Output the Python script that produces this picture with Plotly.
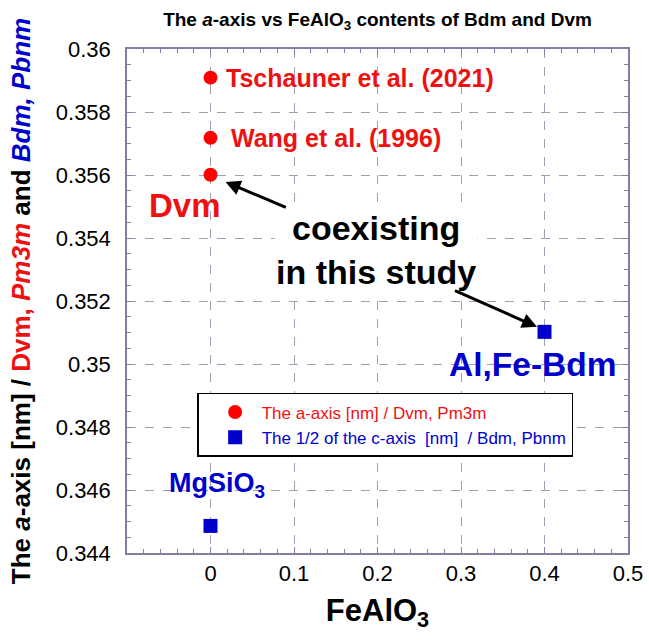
import plotly.graph_objects as go

# ---- data ----
dvm_x = [0.0, 0.0, 0.0]
dvm_y = [0.35909, 0.35718, 0.35601]
bdm_x = [0.0, 0.4]
bdm_y = [0.34486, 0.35102]
x_ticks = [0, 0.1, 0.2, 0.3, 0.4, 0.5]
y_ticks = [0.344, 0.346, 0.348, 0.35, 0.352, 0.354, 0.356, 0.358, 0.36]

RED = "#ff0000"
RED_T = "#ee1111"
BLUE = "#0000cc"
FONT = "Liberation Sans, Arial, sans-serif"
AX = "#8080a8"
GRID = "#a0a0b4"

fig = go.Figure()
fig.add_trace(go.Scatter(
    x=dvm_x, y=dvm_y, mode="markers",
    marker=dict(symbol="circle", size=14, color=RED),
    name=f'<span style="color:{RED_T}">The a-axis [nm] / Dvm, Pm3m</span>'))
fig.add_trace(go.Scatter(
    x=bdm_x, y=bdm_y, mode="markers",
    marker=dict(symbol="square", size=14, color=BLUE),
    name=f'<span style="color:{BLUE}">The 1/2 of the c-axis  [nm]  / Bdm, Pbnm</span>'))

ann = []
def txt(x, y, s, size, color, xanchor="center", bg=None):
    d = dict(x=x, y=y, xref="x", yref="y", text=s, showarrow=False,
             font=dict(family=FONT, size=size, color=color),
             xanchor=xanchor, yanchor="middle")
    if bg:
        d["bgcolor"] = bg
    ann.append(d)

txt(0.016, dvm_y[0], "<b>Tschauner et al. (2021)</b>", 25, RED_T, "left")
txt(0.022, dvm_y[1], "<b>Wang et al. (1996)</b>", 25, RED_T, "left")
txt(-0.031, 0.35502, "<b>Dvm</b>", 33, RED_T)
txt(0.1986, 0.35362, "<b>coexisting<br>in this study</b>", 34, "black", bg="white")
txt(0.386, 0.34997, "<b>Al,Fe-Bdm</b>", 33.5, BLUE)
txt(-0.052, 0.34616, "<b>MgSiO<sub>3</sub></b>", 27, BLUE, "left")

for (hx, hy, tx, ty) in [(0.018, 0.35578, 0.092, 0.35495),
                         (0.391, 0.35118, 0.291, 0.35235)]:
    ann.append(dict(x=hx, y=hy, ax=tx, ay=ty, xref="x", yref="y",
                    axref="x", ayref="y", text="", showarrow=True,
                    arrowhead=2, arrowsize=1, arrowwidth=3, arrowcolor="black"))

fig.update_layout(
    width=649, height=640,
    margin=dict(l=127, r=21, t=49, b=87),
    paper_bgcolor="white", plot_bgcolor="white",
    font=dict(family=FONT, color="black"),
    title=dict(text="<b>The <i>a</i>-axis vs FeAlO<sub>3</sub> contents of Bdm and Dvm</b>",
               x=0.5, xref="paper", y=1 - 19 / 640, yref="container",
               xanchor="center", yanchor="middle",
               font=dict(family=FONT, size=19, color="black")),
    showlegend=True,
    legend=dict(x=0.14, y=0.3175, xanchor="left", yanchor="top",
                bgcolor="white", bordercolor="black", borderwidth=1.5,
                font=dict(family=FONT, size=17), indentation=10, itemwidth=43,
                tracegroupgap=0),
    annotations=ann,
)

fig.update_xaxes(
    range=[-0.1, 0.5], tickvals=x_ticks, ticktext=[f"{v:g}" for v in x_ticks],
    showline=True, linecolor=AX, linewidth=1.5, mirror="ticks",
    ticks="inside", ticklen=6, tickcolor=AX, tickwidth=1,
    showgrid=True, gridcolor=GRID, griddash="dash", gridwidth=1,
    zeroline=False, automargin=False,
    tickfont=dict(family=FONT, size=22, color="black"),
    minor=dict(dtick=0.02, tick0=-0.1, ticks="inside", ticklen=4, tickcolor=AX, showgrid=False),
    title=dict(text="<b>FeAlO<sub>3</sub></b>", font=dict(family=FONT, size=31, color="black"), standoff=14),
)
fig.update_yaxes(
    range=[0.344, 0.36], tickvals=y_ticks, ticktext=[f"{v:g}" for v in y_ticks],
    showline=True, linecolor=AX, linewidth=1.5, mirror="ticks",
    ticks="inside", ticklen=6, tickcolor=AX, tickwidth=1,
    showgrid=True, gridcolor=GRID, griddash="dash", gridwidth=1,
    zeroline=False, automargin=False, ticklabelstandoff=10,
    tickfont=dict(family=FONT, size=22, color="black"),
    minor=dict(dtick=0.0005, tick0=0.344, ticks="inside", ticklen=4, tickcolor=AX, showgrid=False),
    title=dict(text=(f'<b>The <i>a</i>-axis [nm] / <span style="color:{RED_T}">Dvm, <i>Pm3m</i></span>'
                     f' and <span style="color:{BLUE}"><i>Bdm, Pbnm</i></span></b>'),
               font=dict(family=FONT, size=26, color="black"), standoff=18),
)

fig.write_html("out.html", config={"displayModeBar": False},
               post_script="document.body.style.margin='0px';")
